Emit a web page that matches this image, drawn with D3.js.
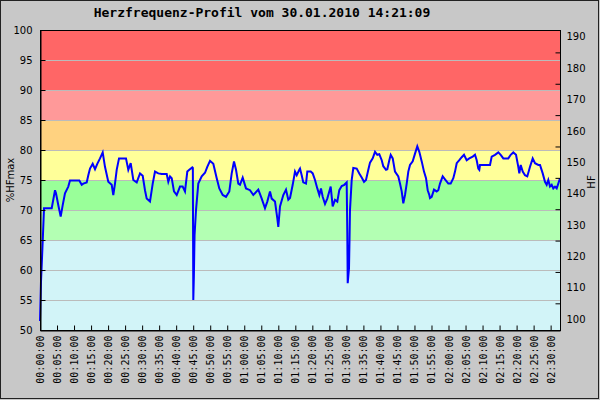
<!DOCTYPE html>
<html>
<head>
<meta charset="utf-8">
<script src="https://cdn.jsdelivr.net/npm/d3@7.9.0/dist/d3.min.js"></script>
<style>
  body { margin: 0; background: #c8c8c8; }
  svg { display: block; }
</style>
</head>
<body>
<svg width="600" height="400"></svg>
<script>
// time in minutes since start
const minutes = [0, 0.29, 0.59, 0.88, 1.18, 3.44, 4.41, 4.70, 5.38, 6.08, 6.67, 7.34, 8.31, 8.81, 11.54, 12.25, 12.72, 13.72, 14.19, 14.69,
  15.48, 16.16, 16.83, 17.63, 18.42, 19.09, 20.06, 21.06, 21.53, 22.03, 22.53, 23.21, 25.26, 25.94, 26.64, 27.41, 28.41, 29.38, 30.17, 30.84,
  31.34, 32.31, 33.11, 33.78, 34.75, 35.75, 37.22, 37.69, 38.19, 38.69, 39.36, 40.16, 41.13, 41.91, 42.59, 43.27, 43.86, 44.74, 44.90, 45.03,
  45.20, 45.40, 45.83, 46.50, 47.50, 48.47, 49.14, 49.94, 50.91, 51.91, 52.67, 53.67, 54.64, 55.61, 56.31, 56.99, 57.58, 58.25, 58.75, 59.54,
  60.51, 61.69, 62.66, 64.13, 65.13, 66.09, 66.77, 67.56, 68.06, 69.03, 69.71, 70.00, 70.50, 71.47, 72.26, 72.94, 73.44, 74.23, 74.91, 75.41,
  76.17, 76.38, 76.87, 77.34, 78.14, 78.52, 79.52, 80.11, 80.78, 81.46, 82.05, 82.54, 83.04, 83.72, 84.39, 85.39, 85.98, 86.66, 87.33, 87.92,
  88.63, 89.39, 90.09, 90.27, 90.39, 90.77, 90.92, 91.06, 91.56, 92.03, 93.03, 93.79, 94.50, 95.18, 95.76, 96.44, 96.94, 97.73, 98.41, 99.08,
  99.67, 100.38, 100.84, 101.64, 102.02, 102.61, 103.02, 103.61, 104.28, 105.25, 105.75, 106.25, 106.72, 107.22, 107.72, 108.19, 108.69, 109.48, 110.16, 110.83,
  111.42, 112.13, 112.80, 113.39, 113.89, 114.36, 114.56, 115.06, 115.74, 116.53, 117.00, 117.50, 118.29, 118.97, 119.94, 120.64, 121.41, 121.91, 122.41, 123.17,
  123.88, 124.55, 125.34, 126.11, 127.11, 127.78, 128.28, 128.75, 129.04, 129.25, 132.19, 132.69, 133.66, 134.63, 135.33, 136.10, 137.56, 138.27, 139.03, 139.83,
  140.50, 140.80, 141.21, 141.80, 142.47, 143.14, 143.94, 144.73, 145.41, 146.38, 146.88, 147.67, 148.34, 148.84, 149.31, 149.81, 150.31, 150.78, 151.28, 151.78,
  152.25, 152.75];

// heart rate in % of HFmax
const pctHFmax = [51.5, 58, 62, 66, 70.3, 70.3, 73.3, 72.8, 70.8, 68.9, 70.8, 72.8, 73.9, 74.9, 74.9, 74.2, 74.4, 74.6, 75.8, 76.9,
  77.7, 76.8, 77.7, 78.6, 79.6, 77.2, 74.7, 74.2, 72.5, 74.4, 76.7, 78.6, 78.6, 76.7, 77.8, 75.0, 74.6, 76.1, 75.7, 73.3,
  71.9, 71.4, 74.4, 76.4, 76.1, 76.0, 76.0, 74.7, 75.6, 75.3, 73.1, 72.5, 73.9, 73.9, 73.1, 76.4, 76.7, 77.1, 77.0, 55.0,
  58.9, 65.8, 70.0, 74.4, 75.6, 76.2, 77.2, 78.2, 77.7, 75.3, 73.6, 72.5, 72.2, 73.1, 76.1, 78.1, 76.7, 74.4, 74.2, 75.4,
  73.6, 73.3, 72.5, 73.4, 71.9, 70.3, 71.4, 73.1, 71.9, 71.4, 68.6, 67.2, 70.6, 72.5, 73.4, 71.7, 72.0, 74.2, 76.4, 75.8,
  76.7, 76.9, 75.8, 74.6, 74.4, 76.4, 76.4, 76.1, 75.0, 73.6, 72.5, 73.6, 72.2, 71.0, 71.9, 73.9, 70.6, 71.7, 71.4, 73.3,
  74.0, 74.2, 74.6, 66.1, 57.8, 60.3, 65.0, 70.0, 75.0, 77.0, 76.9, 76.1, 75.4, 74.7, 75.0, 76.7, 77.9, 78.6, 79.7, 79.2,
  79.3, 78.3, 77.3, 76.7, 76.8, 78.3, 79.2, 78.6, 76.4, 75.6, 74.4, 73.1, 71.1, 72.5, 74.4, 76.4, 77.5, 78.1, 79.4, 80.6,
  79.7, 78.1, 76.4, 75.3, 73.3, 72.5, 72.0, 72.2, 73.4, 73.1, 73.3, 74.4, 75.6, 75.1, 74.4, 74.4, 75.3, 76.4, 77.8, 78.3,
  78.8, 79.2, 78.3, 78.6, 78.9, 79.2, 78.3, 76.9, 76.7, 77.5, 77.5, 78.9, 79.2, 79.6, 79.2, 78.6, 78.6, 79.2, 79.6, 79.2,
  77.2, 76.1, 77.5, 76.4, 75.8, 75.6, 77.2, 78.6, 77.8, 77.5, 77.5, 76.1, 74.7, 74.2, 75.0, 73.9, 74.2, 73.6, 73.9, 73.6,
  74.4, 75.3];

// training zones (%HFmax)
const zoneFrom = [50, 65, 70, 75, 80, 85, 90];
const zoneTo = [65, 70, 75, 80, 85, 90, 100];
const zoneColors = ['#d2f4f8', '#b3ffb3', '#99ff99', '#ffff99', '#ffd280', '#ff9999', '#ff6666'];

const pctTicks = d3.range(50, 101, 5);
const hfTicks = d3.range(100, 191, 10);
const timeTicks = d3.range(0, 151, 5);

const svg = d3.select('svg');
const plotLeft = 40, plotRight = 560, plotTop = 30, plotBottom = 330;

let x = d3.scaleLinear().domain([0, 152.75]).range([plotLeft, plotRight]);
let y = d3.scaleLinear().domain([50, 100]).range([plotBottom, plotTop]);
let yHF = d3.scaleLinear().domain([100, 190]).range([319, 36.7]);

// outer frame
svg.append('rect')
  .attr('x', 0.5).attr('y', 0.5).attr('width', 598).attr('height', 398)
  .attr('fill', '#c8c8c8').attr('stroke', '#222');

// title
svg.append('text')
  .attr('x', 262).attr('y', 17)
  .attr('text-anchor', 'middle')
  .style('font', 'bold 13px "DejaVu Sans Mono"')
  .text('Herzfrequenz-Profil vom 30.01.2010 14:21:09');

// zones
zoneFrom.forEach((z, i) => {
  svg.append('rect')
    .attr('x', plotLeft).attr('width', plotRight - plotLeft)
    .attr('y', y(zoneTo[i])).attr('height', y(z) - y(zoneTo[i]))
    .attr('fill', zoneColors[i]);
});

// grid lines
svg.selectAll('.grid')
  .data(pctTicks.slice(1, -1))
  .join('line')
  .attr('x1', plotLeft).attr('x2', plotRight)
  .attr('y1', d => y(d) + 0.5).attr('y2', d => y(d) + 0.5)
  .attr('stroke', '#bbbbbb');

// heart rate line
let line = d3.line()
  .x((d, i) => x(minutes[i]))
  .y(d => y(d));

svg.append('path')
  .attr('d', line(pctHFmax))
  .attr('fill', 'none')
  .attr('stroke', '#0000ff')
  .attr('stroke-width', 2)
  .attr('stroke-linejoin', 'miter');

// plot frame
svg.append('rect')
  .attr('x', plotLeft + 0.5).attr('y', plotTop + 0.5)
  .attr('width', plotRight - plotLeft).attr('height', plotBottom - plotTop)
  .attr('fill', 'none').attr('stroke', '#000');

// x axis
let xAxis = svg.append('g')
  .attr('transform', `translate(0,${plotBottom + 0.5})`)
  .call(d3.axisBottom(x).tickValues(timeTicks).tickSize(-5).tickSizeOuter(0)
    .tickFormat(d => {
      let h = Math.floor(d / 60), m = d % 60;
      return `0${h}:${m < 10 ? '0' + m : m}:00`;
    }));
xAxis.selectAll('text')
  .attr('transform', 'rotate(-90)')
  .attr('text-anchor', 'end')
  .attr('x', -5).attr('y', 0).attr('dy', '0.35em')
  .style('font', '10px "DejaVu Sans Mono"').attr('fill', '#000');

// left axis
let yAxis = svg.append('g')
  .attr('transform', `translate(${plotLeft + 0.5},0)`)
  .call(d3.axisLeft(y).tickValues(pctTicks).tickSize(-5).tickSizeOuter(0).tickPadding(8));
yAxis.selectAll('text').style('font', '10px "DejaVu Sans"').attr('fill', '#000');

// right axis (HF)
let yAxis2 = svg.append('g')
  .attr('transform', `translate(${plotRight + 0.5},0)`)
  .call(d3.axisRight(yHF).tickValues(hfTicks).tickSize(0).tickSizeOuter(0).tickPadding(6));
yAxis2.selectAll('text').style('font', '10px "DejaVu Sans"').attr('fill', '#000');
yAxis2.select('.domain').remove();
svg.append('g')
  .attr('transform', `translate(${plotRight + 0.5},0)`)
  .call(d3.axisRight(yHF).tickValues(hfTicks.slice(1).map(d => d - 5)).tickSize(-5).tickSizeOuter(0).tickFormat(''))
  .select('.domain').remove();

svg.selectAll('.tick line').attr('stroke', '#000');
svg.selectAll('.domain').attr('stroke', '#000');

// axis titles
svg.append('text')
  .attr('transform', 'translate(10,180) rotate(-90)')
  .attr('text-anchor', 'middle').attr('dy', '0.35em')
  .style('font', '10px "DejaVu Sans"')
  .text('%HFmax');

svg.append('text')
  .attr('transform', 'translate(591,182) rotate(-90)')
  .attr('text-anchor', 'middle').attr('dy', '0.35em')
  .style('font', '10px "DejaVu Sans"')
  .text('HF');
</script>
</body>
</html>
